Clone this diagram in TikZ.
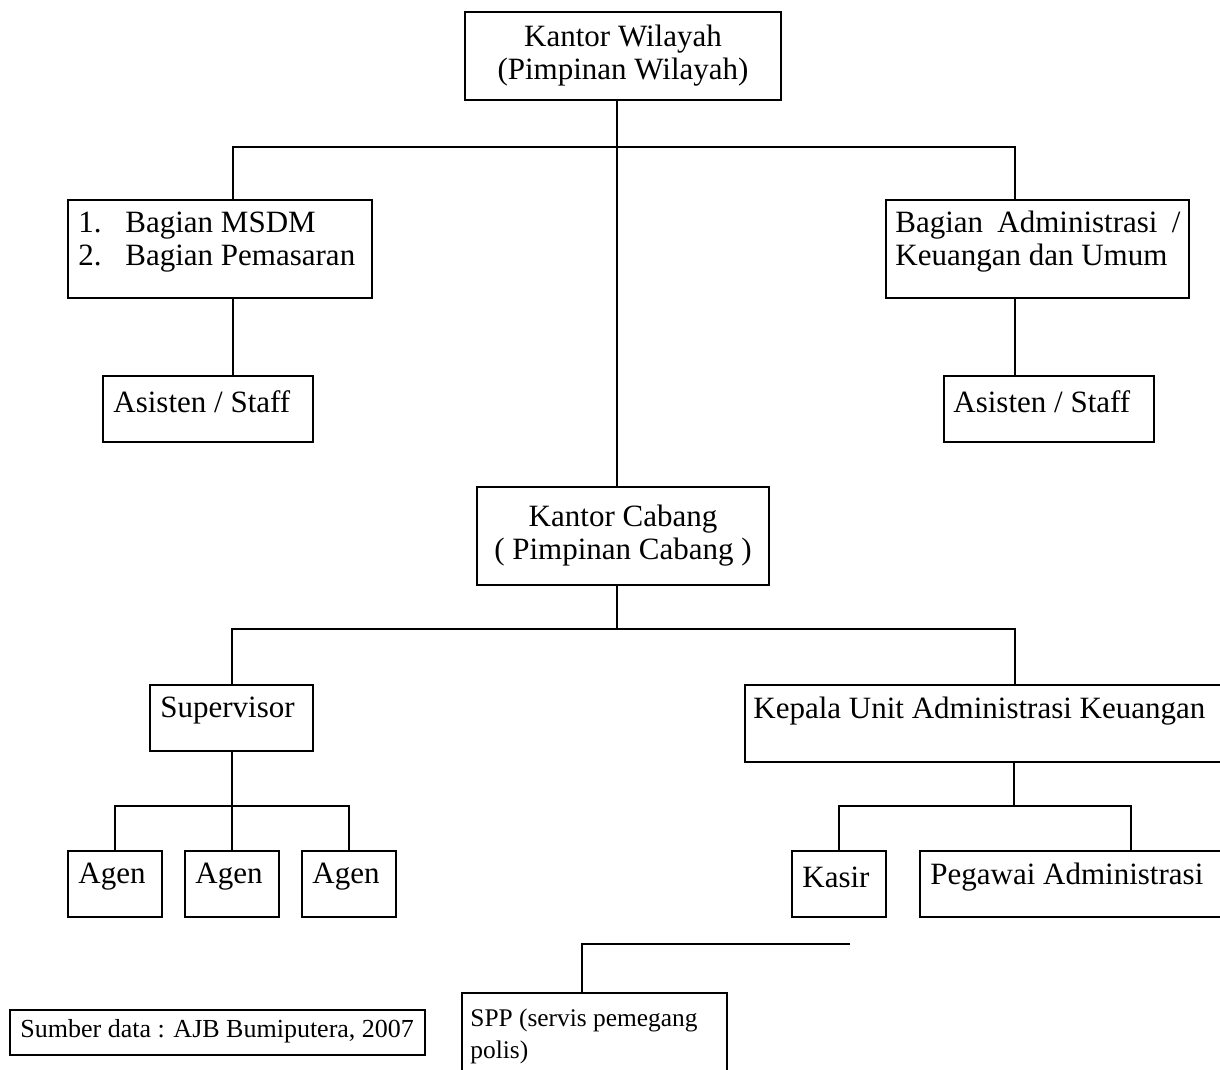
\documentclass[tikz,border=0pt]{standalone}
\usepackage{fontspec}
\setmainfont{Liberation Serif}
\begin{document}
\begin{tikzpicture}[x=0.5pt,y=-0.5pt,
  unit box/.style 2 args={draw, line width=1pt, minimum width=#1*0.5pt,
    minimum height=#2*0.5pt, inner sep=0pt},
  wire/.style={line width=1pt},
  lbl/.style={inner sep=0pt, font=\fontsize{15.5pt}{16.5pt}\selectfont},
  small/.style={inner sep=0pt, font=\fontsize{12.7pt}{16pt}\selectfont}]
\useasboundingbox (0,0) rectangle (1220,1070);

% --- regional office level ---
\node[unit box={316}{88}, lbl, align=center] (kw) at (623,56)
  {Kantor Wilayah\\(Pimpinan Wilayah)};

\node[unit box={304}{98}] (msdm) at (220,249) {};
\node[lbl, anchor=west, align=left] (msdm-t) at (78,242)
  {\makebox[23.5pt][l]{1.}Bagian MSDM\\\makebox[23.5pt][l]{2.}Bagian Pemasaran};

\node[unit box={303}{98}] (adm) at (1037.5,249) {};
\node[lbl, anchor=west, align=left] (adm-t) at (895,242)
  {\makebox[142.5pt][s]{Bagian Administrasi /}\\Keuangan dan Umum};

\node[unit box={210}{66}] (asl) at (208,409) {};
\node[lbl, anchor=west] (asl-t) at (113,402) {Asisten / Staff};

\node[unit box={210}{66}] (asr) at (1049,409) {};
\node[lbl, anchor=west] (asr-t) at (953,402) {Asisten / Staff};

% --- branch office level ---
\node[unit box={292}{98}, lbl, align=center] (kc) at (623,536)
  {Kantor Cabang\\( Pimpinan Cabang )};

\node[unit box={163}{66}] (sup) at (231.5,718) {};
\node[lbl, anchor=west] (sup-t) at (160,711) {Supervisor};

\node[unit box={487}{77}] (kua) at (988.5,723.5) {};
\node[lbl, anchor=west] (kua-t) at (753,711) {Kepala Unit Administrasi Keuangan};

\node[unit box={94}{66}] (ag1) at (115,884) {};
\node[lbl, anchor=west] (ag1-t) at (78,877) {Agen};
\node[unit box={94}{66}] (ag2) at (232,884) {};
\node[lbl, anchor=west] (ag2-t) at (195,877) {Agen};
\node[unit box={94}{66}] (ag3) at (349,884) {};
\node[lbl, anchor=west] (ag3-t) at (312,877) {Agen};

\node[unit box={94}{66}] (kasir) at (839,884) {};
\node[lbl, anchor=west] (kasir-t) at (802,877) {Kasir};

\node[unit box={312}{66}] (peg) at (1076,884) {};
\node[lbl, anchor=west] (peg-t) at (930,877) {Pegawai Administrasi};

\node[unit box={265}{90}] (spp) at (594.5,1038) {};
\node[small, anchor=west, align=left] (spp-t) at (470,1036)
  {SPP (servis pemegang\\polis)};

\node[unit box={415}{45}] (src) at (217.5,1032.5) {};
\node[small, font=\fontsize{13pt}{16pt}\selectfont, anchor=west] (src-t) at (20,1031)
  {Sumber data : AJB Bumiputera, 2007};

% --- connector guide points ---
\coordinate (spine) at (617,147);
\coordinate (busL) at (233,147);
\coordinate (busR) at (1015,147);
\coordinate (bus2) at (617,629);
\coordinate (bus2L) at (232,629);
\coordinate (bus2R) at (1015,629);
\coordinate (agbus) at (232,806);
\coordinate (kbus) at (1014,806);
\coordinate (kbusR) at (1131,806);
\coordinate (sppbus) at (582,944);
\coordinate (sppend) at (850,944);

% --- connectors ---
\draw[wire] (spine |- kw.south) -- (spine |- kc.north);
\draw[wire] (busL |- msdm.north) -- (busL) -- (busR) -- (busR |- adm.north);
\draw[wire] (busL |- msdm.south) -- (busL |- asl.north);
\draw[wire] (busR |- adm.south) -- (busR |- asr.north);

\draw[wire] (bus2 |- kc.south) -- (bus2);
\draw[wire] (bus2L |- sup.north) -- (bus2L) -- (bus2R) -- (bus2R |- kua.north);

\draw[wire] (agbus |- sup.south) -- (agbus);
\draw[wire] (ag1.north) |- (agbus) -| (ag3.north);
\draw[wire] (agbus) -- (ag2.north);

\draw[wire] (kbus |- kua.south) -- (kbus);
\draw[wire] (kasir.north) |- (kbus) -- (kbusR) -- (kbusR |- peg.north);

\draw[wire] (sppend) -- (sppbus) -- (sppbus |- spp.north);
\end{tikzpicture}
\end{document}
